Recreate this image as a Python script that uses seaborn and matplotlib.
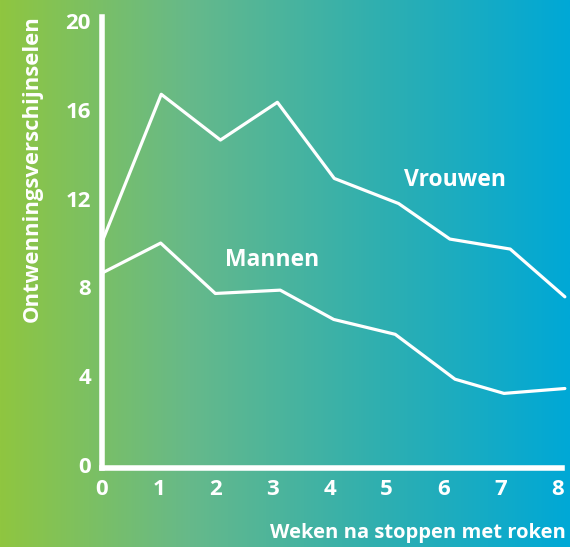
import numpy as np
import pandas as pd
import matplotlib
matplotlib.use("Agg")
import matplotlib.pyplot as plt
from matplotlib.colors import LinearSegmentedColormap
import seaborn as sns

# ---data---
weeks_vrouwen = [0.0, 1.04, 2.08, 3.08, 4.08, 5.21, 6.11, 7.17, 8.13]
vrouwen = [10.05, 16.7, 14.64, 16.34, 12.91, 11.78, 10.18, 9.73, 7.58]
weeks_mannen = [0.0, 1.03, 1.99, 3.13, 4.07, 5.15, 6.2, 7.06, 8.13]
mannen = [8.65, 10.0, 7.73, 7.88, 6.56, 5.89, 3.87, 3.23, 3.45]
x_ticks = [0, 1, 2, 3, 4, 5, 6, 7, 8]
y_ticks = [0, 4, 8, 12, 16, 20]

df = pd.concat([
    pd.DataFrame({'week': weeks_vrouwen, 'value': vrouwen, 'groep': 'Vrouwen'}),
    pd.DataFrame({'week': weeks_mannen, 'value': mannen, 'groep': 'Mannen'}),
])

# ---style---
sns.set_theme(style='white')
plt.rcParams['font.family'] = ['Open Sans', 'DejaVu Sans']

fig = plt.figure(figsize=(5.7, 5.47), dpi=100)

# - gradient background
bg = fig.add_axes([0, 0, 1, 1], zorder=0)
grad_cmap = LinearSegmentedColormap.from_list(
    'bg', ['#8fc640', '#66b98a', '#2fafb0', '#00a8d6'])
bg.imshow(np.linspace(0, 1, 256).reshape(1, -1), aspect='auto', cmap=grad_cmap,
          extent=[0, 1, 0, 1])
bg.axis('off')

ax = fig.add_axes([0.179, 0.1444, 0.807, 0.8245], zorder=1)
ax.set_facecolor('none')

sns.lineplot(data=df, x='week', y='value', hue='groep', sort=False,
             palette={'Vrouwen': 'white', 'Mannen': 'white'},
             linewidth=2.3, legend=False, ax=ax, clip_on=False)

ax.set_xlim(0, 8.08)
ax.set_ylim(-0.13, 20.18)
ax.set_xticks(x_ticks)
ax.set_yticks(y_ticks)
ax.tick_params(length=0, colors='white', labelsize=16, pad=8)
for lab in ax.get_xticklabels() + ax.get_yticklabels():
    lab.set_fontweight('bold')
ax.set_xlabel('')
ax.set_ylabel('')

for side in ['top', 'right']:
    ax.spines[side].set_visible(False)
for side in ['left', 'bottom']:
    ax.spines[side].set_color('white')
    ax.spines[side].set_linewidth(4)

# - series labels
ax.text(6.2, 12.84, 'Vrouwen', color='white', fontsize=16.5, fontweight='bold',
        ha='center', va='center')
ax.text(2.99, 9.23, 'Mannen', color='white', fontsize=16.5, fontweight='bold',
        ha='center', va='center')

# - axis titles
fig.text(32 / 570, 1 - 169 / 547, 'Ontwenningsverschijnselen', rotation=90,
         color='white', fontsize=15.8, fontweight='bold', ha='center', va='center')
fig.text(566 / 570, 1 - 533 / 547, 'Weken na stoppen met roken',
         color='white', fontsize=14.5, fontweight='bold', ha='right', va='center')

fig.savefig('out.png', dpi=100)
